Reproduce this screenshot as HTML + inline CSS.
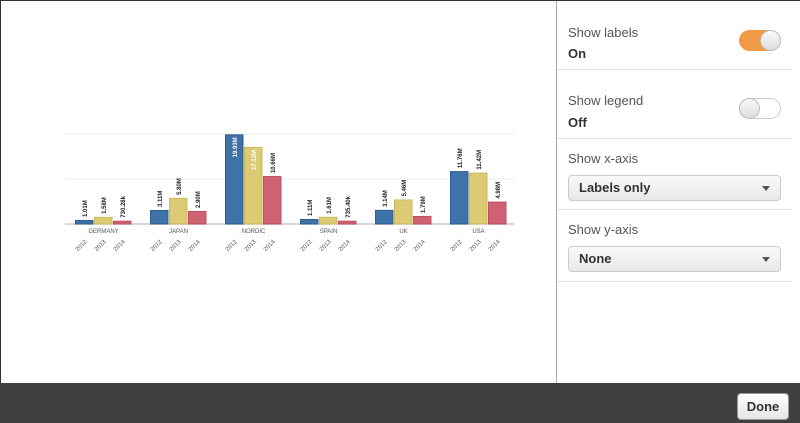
<!DOCTYPE html>
<html><head><meta charset="utf-8"><style>
body{margin:0;width:800px;height:423px;overflow:hidden;font-family:"Liberation Sans",sans-serif;background:#fff;position:relative}
.frame{position:absolute;left:0;top:0;width:798px;height:421px;border:1px solid #333}
.panel{position:absolute;left:556px;top:1px;width:243px;height:382px;border-left:1px solid #aaa;background:#fff}
.sec{position:absolute;left:0;width:235px;border-bottom:1px solid #e2e2e2}
.lbl{position:absolute;left:11px;font-size:13px;color:#555}
.val{position:absolute;left:11px;font-size:13px;font-weight:bold;color:#333}
.tog{position:absolute;left:182px;width:42px;height:21px;border-radius:11px}
.knob{position:absolute;top:0;width:21px;height:21px;border-radius:50%;background:linear-gradient(#fafafa,#ddd);border:1px solid #bbb;box-sizing:border-box}
.sel{position:absolute;left:11px;width:213px;height:26px;border:1px solid #ccc;border-radius:4px;background:linear-gradient(#fafafa,#e8e8e8);box-sizing:border-box;font-size:13px;font-weight:bold;color:#333;line-height:24px;padding-left:10px}
.sel:after{content:"";position:absolute;right:10px;top:10px;border:4px solid transparent;border-top:5px solid #555}
.bottom{position:absolute;left:0;top:383px;width:800px;height:40px;background:#404040}
.done{position:absolute;left:737px;top:393px;width:52px;height:27px;border-radius:4px;background:linear-gradient(#fff,#e4e4e4);border:1px solid #999;box-sizing:border-box;font-size:13px;font-weight:bold;text-align:center;line-height:25px;color:#333}
</style></head><body>
<div class="frame"></div>
<svg id="chart" width="556" height="383" style="position:absolute;left:0;top:0"></svg>
<div class="panel">
 <div class="sec" style="top:0;height:68px">
  <div class="lbl" style="top:24px">Show labels</div>
  <div class="val" style="top:45px">On</div>
  <div class="tog" style="top:29px;background:#f29a45"><div class="knob" style="left:21px"></div></div>
 </div>
 <div class="sec" style="top:69px;height:68px">
  <div class="lbl" style="top:23px">Show legend</div>
  <div class="val" style="top:45px">Off</div>
  <div class="tog" style="top:28px;background:#fff;border:1px solid #ccc;box-sizing:border-box"><div class="knob" style="left:-1px;top:-1px"></div></div>
 </div>
 <div class="sec" style="top:138px;height:70px">
  <div class="lbl" style="top:12px">Show x-axis</div>
  <div class="sel" style="top:36px">Labels only</div>
 </div>
 <div class="sec" style="top:209px;height:71px">
  <div class="lbl" style="top:12px">Show y-axis</div>
  <div class="sel" style="top:36px">None</div>
 </div>
</div>
<div class="bottom"></div>
<div class="done">Done</div>
<script>
const categories=["GERMANY","JAPAN","NORDIC","SPAIN","UK","USA"];
const years=["2012","2013","2014"];
const v2012=[0.9,3.11,19.93,1.11,3.14,11.76];
const v2013=[1.58,5.8,17.12,1.61,5.46,11.42];
const v2014=[0.73,2.9,10.66,0.73,1.79,4.98];
const labels2012=["1.01M","3.11M","19.93M","1.11M","3.14M","11.76M"];
const labels2013=["1.58M","5.80M","17.12M","1.61M","5.46M","11.42M"];
const labels2014=["730.28k","2.90M","10.66M","735.40k","1.79M","4.98M"];
const gridVals=[0,10,20];
const colors=["#3f72a7","#dccb74","#cf6272"];
const strokes=["#2f5f92","#cbb95f","#bd5060"];
const svg=document.getElementById('chart');const NS="http://www.w3.org/2000/svg";
const x0=65,x1=515,yBase=224,yTop=134,maxV=20;
const y=v=>yBase-(v/maxV)*(yBase-yTop);
const band=(x1-x0)/categories.length;
function mk(t,a){const e=document.createElementNS(NS,t);for(const k in a)e.setAttribute(k,a[k]);svg.appendChild(e);return e;}
gridVals.forEach(g=>{const l=mk('line',{x1:x0,x2:x1,y1:y(g),y2:y(g),stroke:g?'#eee':'#ccc','stroke-width':g?1:1.5});

});
const series=[v2012,v2013,v2014],slabels=[labels2012,labels2013,labels2014];
const bw=18.5,gap=0.5;
categories.forEach((c,i)=>{
 const left=x0+i*band+10;
 series.forEach((s,j)=>{
  const bx=left+j*(bw+gap);
  const r=mk('rect',{x:bx+0.5,y:y(s[i])+0.5,width:bw-1,height:Math.max(0,yBase-y(s[i])-0.5),fill:colors[j],stroke:strokes[j],'stroke-width':1});
  
  
  const inside=(yBase-y(s[i]))>60;
  const ty=inside?y(s[i])+3:y(s[i])-3;
  const t=mk('text',{x:0,y:0,transform:`translate(${bx+bw/2+2.5},${ty}) rotate(-90)`,'font-size':6,'font-weight':'bold','text-anchor':inside?'end':'start',fill:inside?'#fff':'#222'});
  t.textContent=slabels[j][i];
  
  
  const yt=mk('text',{x:0,y:0,transform:`translate(${bx+bw/2+3},${242}) rotate(-45)`,'font-size':6,'text-anchor':'end',fill:'#555'});
  yt.textContent=years[j];
  
  
 });
 const ct=mk('text',{x:left+1.5*(bw+gap),y:233,'font-size':6,'text-anchor':'middle',fill:'#555'});
 ct.textContent=c;
 
 
});
</script>
</body></html>
